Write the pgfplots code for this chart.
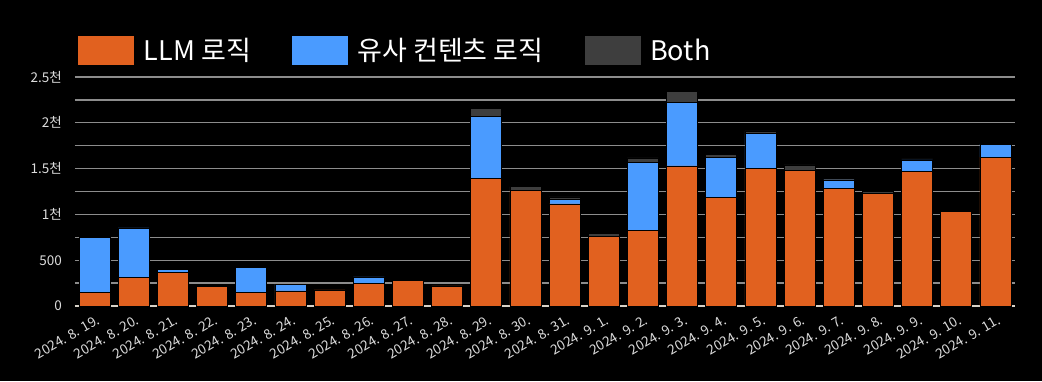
\documentclass[border=0pt]{standalone}
\usepackage{pgfplots}
\usepackage{pgfplotstable}
\pgfplotsset{compat=1.18}
\usepackage{fontspec}
\setmainfont{Noto Sans CJK KR}
\definecolor{llm}{HTML}{E1611F}
\definecolor{sim}{HTML}{4A9BFF}
\definecolor{both}{HTML}{3E3E3E}
\definecolor{gridc}{HTML}{8C8C8C}
\definecolor{txt}{HTML}{DCDCDC}
\definecolor{zeroc}{HTML}{D7D2C8}

\pgfplotstableread{
x L S B
0 150 600 0
1 313 540 5
2 368 32 0
3 215 0 0
4 150 275 0
5 164 73 0
6 175 0 0
7 248 69 0
8 278 0 5
9 220 0 5
10 1394 673 88
11 1263 0 40
12 1114 51 25
13 764 0 26
14 826 739 51
15 1529 691 124
16 1183 437 33
17 1505 375 32
18 1480 0 60
19 1281 95 18
20 1231 0 21
21 1467 127 11
22 1030 0 18
23 1624 142 0
}\datatable

\begin{document}
\begin{tikzpicture}
\path[use as bounding box, fill=black] (-75pt,-75pt) rectangle (967pt,306pt);
\begin{axis}[
  at={(0pt,0pt)}, anchor=south west,
  scale only axis, width=940pt, height=229pt,
  xmin=-0.5, xmax=23.5, ymin=0, ymax=2500,
  ybar stacked, bar width=31pt,
  axis line style={draw=none},
  major tick length=0pt, minor tick length=0pt,
  ytick={0,500,1000,1500,2000,2500},
  yticklabels={0,500,1천,1.5천,2천,2.5천},
  minor ytick={250,750,1250,1750,2250},
  ymajorgrids, yminorgrids,
  major grid style={draw=gridc, line width=1.3pt},
  minor grid style={draw=gridc, line width=1.3pt},
  yticklabel style={font=\fontsize{13.5}{13.5}\selectfont, text=txt, anchor=east, inner sep=0pt, xshift=-13pt},
  xtick={0,...,23},
  xticklabels={2024. 8. 19., 2024. 8. 20., 2024. 8. 21., 2024. 8. 22., 2024. 8. 23., 2024. 8. 24., 2024. 8. 25., 2024. 8. 26., 2024. 8. 27., 2024. 8. 28., 2024. 8. 29., 2024. 8. 30., 2024. 8. 31., 2024. 9. 1., 2024. 9. 2., 2024. 9. 3., 2024. 9. 4., 2024. 9. 5., 2024. 9. 6., 2024. 9. 7., 2024. 9. 8., 2024. 9. 9., 2024. 9. 10., 2024. 9. 11.},
  xticklabel style={font=\fontsize{13.5}{13.5}\selectfont, text=txt, rotate=30, anchor=north east, inner sep=0pt, yshift=-8pt, xshift=-3pt},
  legend columns=3,
  legend style={at={(0,1)}, anchor=south west, yshift=10pt, draw=none, fill=none,
    font=\fontsize{27}{27}\selectfont, text=white,
    nodes={inner sep=0pt},
    /tikz/every odd column/.append style={column sep=10pt},
    /tikz/every even column/.append style={column sep=41pt}},
  legend cell align=left,
]
\addplot[fill=llm, draw=black, line width=0.7pt, legend image code/.code={\fill[llm] (0pt,-14pt) rectangle (55pt,14pt);}] table[x=x,y=L]{\datatable};
\addplot[fill=sim, draw=black, line width=0.7pt, legend image code/.code={\fill[sim] (0pt,-14pt) rectangle (55pt,14pt);}] table[x=x,y=S]{\datatable};
\addplot[fill=both, draw=black, line width=0.7pt, legend image code/.code={\fill[both] (0pt,-14pt) rectangle (55pt,14pt);}] table[x=x,y=B]{\datatable};
\legend{LLM 로직, 유사 컨텐츠 로직, Both}
\draw[draw=zeroc, line width=1.6pt] (axis cs:-0.5,0) -- (axis cs:23.5,0);
\end{axis}
\end{tikzpicture}
\end{document}
